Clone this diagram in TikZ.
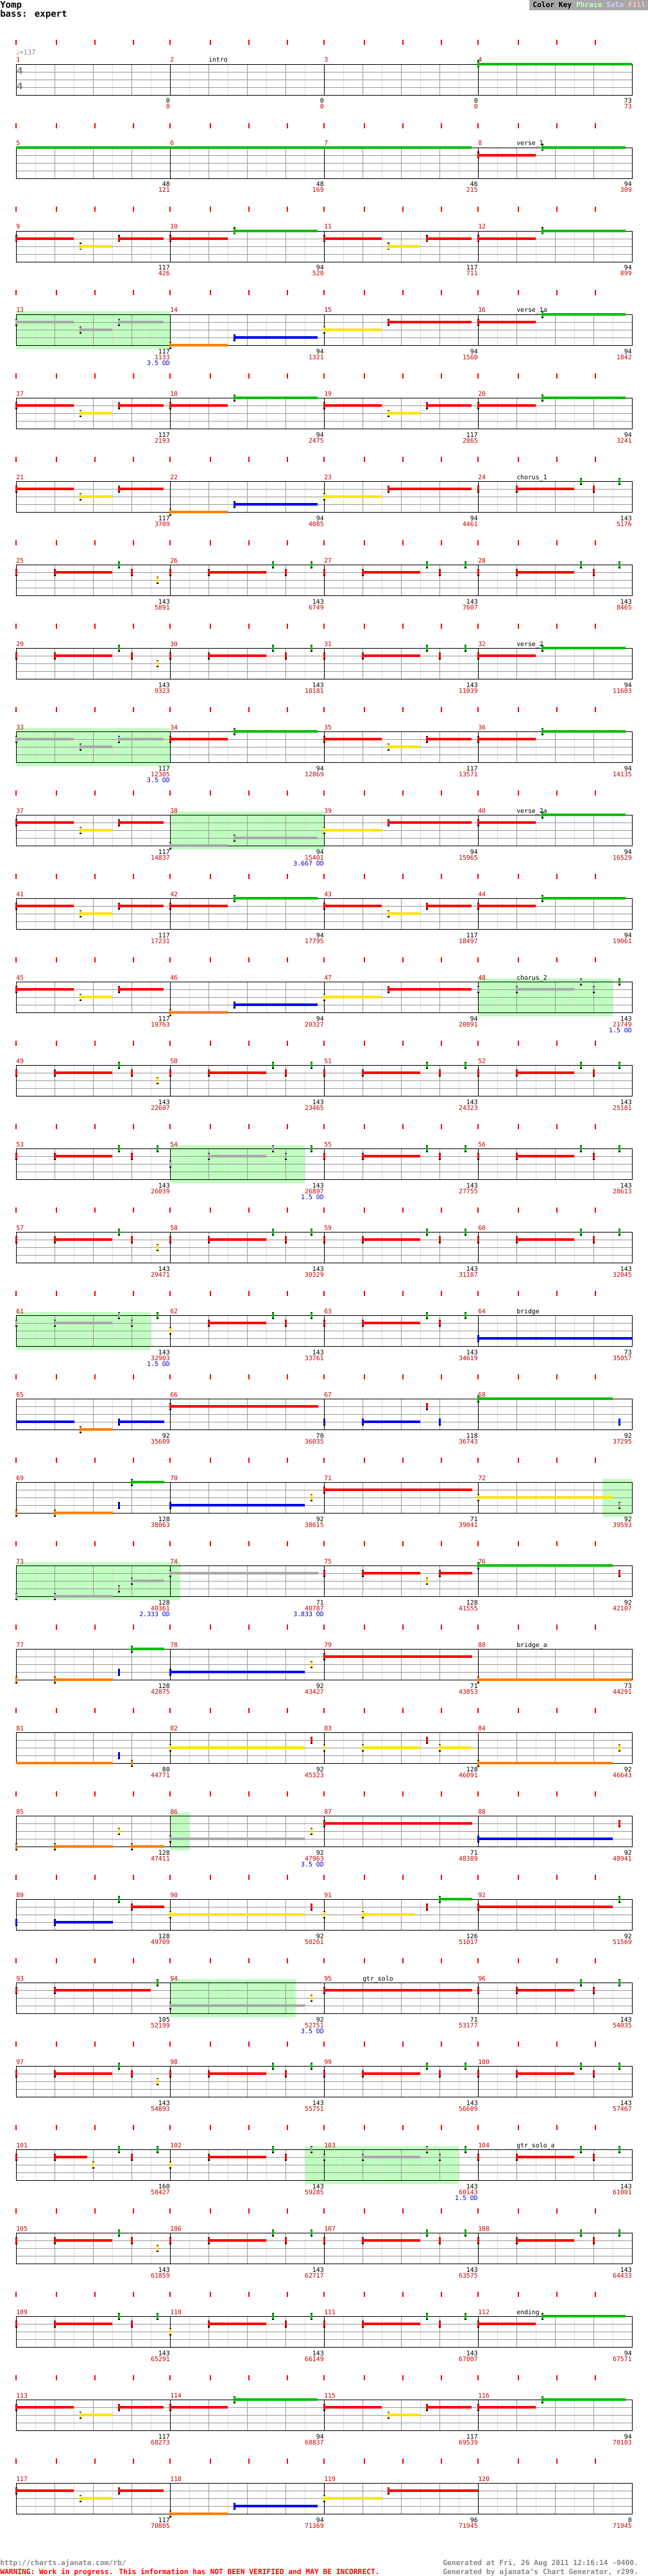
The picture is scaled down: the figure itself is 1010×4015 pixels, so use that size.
\documentclass[tikz,border=0pt]{standalone}
\usepackage{fontspec}
\setmainfont{DejaVu Sans Mono}
\newfontfamily\symfont{DejaVu Sans}

\definecolor{nG}{RGB}{0,190,0}
\definecolor{nR}{RGB}{255,0,0}
\definecolor{nY}{RGB}{255,228,0}
\definecolor{nB}{RGB}{0,0,255}
\definecolor{nO}{RGB}{255,128,0}
\definecolor{nS}{RGB}{168,168,168}
\definecolor{phr}{RGB}{192,255,192}
\definecolor{mred}{RGB}{204,0,0}
\definecolor{odblue}{RGB}{0,0,204}
\definecolor{gridlt}{RGB}{221,221,221}
\definecolor{griddk}{RGB}{153,153,153}
\definecolor{keygray}{RGB}{168,168,168}
\definecolor{keysolo}{RGB}{208,208,255}
\definecolor{keyfill}{RGB}{255,192,192}
\definecolor{footgray}{RGB}{136,136,136}

\tikzset{
  halfline/.style={draw=gridlt, line width=0.7pt},
  beatline/.style={draw=griddk, line width=0.7pt},
  barline/.style={draw=black, line width=0.7pt},
  tickred/.style={fill=red},
  phrase/.style={fill=phr},
  small/.style={font=\fontsize{7}{8}\selectfont, inner sep=0pt},
  mnum/.style={small, text=mred, anchor=base west},
  sect/.style={small, text=black, anchor=base west},
  pts/.style={small, text=black, anchor=base east},
  tot/.style={small, text=mred, anchor=base east},
  odl/.style={small, text=odblue, anchor=base east},
  title/.style={font=\fontsize{10}{12}\selectfont\bfseries, inner sep=0pt, anchor=base west},
  keytxt/.style={font=\fontsize{8}{10}\selectfont\bfseries, inner sep=0pt, anchor=base west},
  foot/.style={font=\fontsize{8}{10}\selectfont\bfseries, inner sep=0pt, anchor=base west},
  tempo/.style={font=\fontsize{7.5}{9}\selectfont, text=footgray, inner sep=0pt, anchor=base west},
  tsig/.style={font=\symfont\fontsize{10}{12}\selectfont\bfseries, text=footgray, inner sep=0pt}
}

% position of measure #1: \mx = left edge, \my = top line of its staff
\newcommand\setm[1]{%
  \pgfmathtruncatemacro\ro{(#1-1)/4}%
  \pgfmathtruncatemacro\co{mod(#1-1,4)}%
  \pgfmathsetmacro\mx{25+240*\co}%
  \pgfmathsetmacro\my{100+130*\ro}}
% gem: offset, lane (0 green .. 4 orange), colour, sustain length
\newcommand\gem[4]{%
  \fill[#3] (\mx+#1,\my+12*#2-2) rectangle ++(#4,4);
  \fill[black] (\mx+#1-1,\my+12*#2-5.5) rectangle ++(3,11);
  \fill[#3] (\mx+#1-1,\my+12*#2-4) rectangle ++(3,8);}
% sustain carried over from the row above
\newcommand\tail[4]{\fill[#3] (\mx+#1,\my+12*#2-2) rectangle ++(#4,4);}
% recurring riffs
\newcommand\riffA[2]{\gem{0}{1}{#1}{90}\gem{100}{2}{#2}{50}\gem{160}{1}{#1}{70}}
\newcommand\riffB[2]{\gem{0}{1}{#1}{90}\gem{100}{0}{#2}{130}}
\newcommand\riffC[2]{\gem{0}{4}{#1}{90}\gem{100}{3}{#2}{130}}
\newcommand\riffD[2]{\gem{0}{2}{#1}{90}\gem{100}{1}{#2}{130}}
\newcommand\chor[6]{\gem{0}{#1}{#2}{0}\gem{60}{1}{#3}{90}\gem{160}{0}{#4}{0}\gem{180}{1}{#3}{0}\gem{220}{#5}{#6}{0}}
\newcommand\chE{\chor{1}{nR}{nR}{nG}{0}{nG}}
\newcommand\chF{\chor{1}{nR}{nR}{nG}{2}{nY}}
\newcommand\chG{\chor{2}{nY}{nR}{nG}{0}{nG}}

\begin{document}
\begin{tikzpicture}[x=0.25mm,y=-0.25mm]
\useasboundingbox (0,0) rectangle (1010,4015);

% header
\node[title] (song) at (0,12.5) {Yomp};
\node[title] (part) at (0,27) {bass: expert};
\fill[keygray] (825,0) rectangle (1010,16);
\node[keytxt] (key) at (830,11.5) {Color Key \textcolor{phr}{Phrase} \textcolor{keysolo}{Solo} \textcolor{keyfill}{Fill}};

% overdrive phrases
\foreach \m/\a/\w in {13/0/240, 33/0/240, 38/0/240, 48/0/210, 54/0/210, 61/0/210,
    72/194/46, 73/0/240, 74/0/16, 86/0/31, 94/0/196, 102/210/30, 103/0/210} {
  \setm{\m}
  \fill[phrase] (\mx+\a,\my-5) rectangle ++(\w,59);
}

% staves
\foreach \ro in {0,...,29} {
  \pgfmathsetmacro\yy{100+130*\ro}
  \foreach \k in {1,3,...,31} \draw[halfline] (25+30*\k,\yy) -- ++(0,48);
  \foreach \k in {2,4,...,30} \draw[beatline] (25+30*\k,\yy) -- ++(0,48);
  \foreach \k in {1,2,3} \draw[beatline] (25,\yy+12*\k) -- ++(960,0);
  \foreach \k in {8,16,24} \draw[barline] (25+30*\k,\yy) -- ++(0,48);
  \draw[barline] (25,\yy) rectangle ++(960,48);
  \foreach \co in {0,...,3}
    \foreach \dx in {0,62.7,122.7,182.7}
      \fill[tickred] (25+240*\co+\dx-1,\yy-38) rectangle ++(2,8);
}
\node[tempo] (bpm) at (25,85.5) {{\symfont ♩}=137};
\node[tsig] (ts1) at (31,110) {4};
\node[tsig] (ts2) at (31,134) {4};

% notes
\setm{4}\gem{0}{0}{nG}{240}
\setm{5}\tail{0}{0}{nG}{240}
\setm{6}\tail{0}{0}{nG}{240}
\setm{7}\tail{0}{0}{nG}{230}
\setm{8}\riffB{nR}{nG}
\setm{9}\riffA{nR}{nY}
\setm{10}\riffB{nR}{nG}
\setm{11}\riffA{nR}{nY}
\setm{12}\riffB{nR}{nG}
\setm{13}\riffA{nS}{nS}
\setm{14}\riffC{nO}{nB}
\setm{15}\riffD{nY}{nR}
\setm{16}\riffB{nR}{nG}
\setm{17}\riffA{nR}{nY}
\setm{18}\riffB{nR}{nG}
\setm{19}\riffA{nR}{nY}
\setm{20}\riffB{nR}{nG}
\setm{21}\riffA{nR}{nY}
\setm{22}\riffC{nO}{nB}
\setm{23}\riffD{nY}{nR}
\setm{24}\chE
\setm{25}\chF
\setm{26}\chE
\setm{27}\chE
\setm{28}\chE
\setm{29}\chF
\setm{30}\chE
\setm{31}\chE
\setm{32}\riffB{nR}{nG}
\setm{33}\riffA{nS}{nS}
\setm{34}\riffB{nR}{nG}
\setm{35}\riffA{nR}{nY}
\setm{36}\riffB{nR}{nG}
\setm{37}\riffA{nR}{nY}
\setm{38}\riffC{nS}{nS}
\setm{39}\riffD{nY}{nR}
\setm{40}\riffB{nR}{nG}
\setm{41}\riffA{nR}{nY}
\setm{42}\riffB{nR}{nG}
\setm{43}\riffA{nR}{nY}
\setm{44}\riffB{nR}{nG}
\setm{45}\riffA{nR}{nY}
\setm{46}\riffC{nO}{nB}
\setm{47}\riffD{nY}{nR}
\setm{48}\chor{1}{nS}{nS}{nS}{0}{nG}
\setm{49}\chF
\setm{50}\chE
\setm{51}\chE
\setm{52}\chE
\setm{53}\chE
\setm{54}\chor{2}{nS}{nS}{nS}{0}{nG}
\setm{55}\chE
\setm{56}\chE
\setm{57}\chF
\setm{58}\chE
\setm{59}\chE
\setm{60}\chE
\setm{61}\chor{1}{nS}{nS}{nS}{0}{nG}
\setm{62}\chG
\setm{63}\chE
\setm{64}\gem{0}{3}{nB}{240}
\setm{65}\tail{0}{3}{nB}{91}\gem{100}{4}{nO}{51}\gem{160}{3}{nB}{71}
\setm{66}\gem{0}{1}{nR}{231}
\setm{67}\gem{0}{3}{nB}{0}\gem{60}{3}{nB}{90}\gem{160}{1}{nR}{0}\gem{180}{3}{nB}{0}
\setm{68}\gem{0}{0}{nG}{210}\gem{220}{3}{nB}{0}
\setm{69}\gem{0}{4}{nO}{0}\gem{60}{4}{nO}{91}\gem{160}{3}{nB}{0}\gem{180}{0}{nG}{51}
\setm{70}\gem{0}{3}{nB}{210}\gem{220}{2}{nY}{0}
\setm{71}\gem{0}{1}{nR}{231}
\setm{72}\gem{0}{2}{nY}{210}\gem{220}{3}{nS}{0}
\setm{73}\gem{0}{4}{nS}{0}\gem{60}{4}{nS}{91}\gem{160}{3}{nS}{0}\gem{180}{2}{nS}{51}
\setm{74}\gem{0}{1}{nS}{231}
\setm{75}\gem{0}{1}{nR}{0}\gem{60}{1}{nR}{90}\gem{160}{2}{nY}{0}\gem{180}{1}{nR}{51}
\setm{76}\gem{0}{0}{nG}{210}\gem{220}{1}{nR}{0}
\setm{77}\gem{0}{4}{nO}{0}\gem{60}{4}{nO}{91}\gem{160}{3}{nB}{0}\gem{180}{0}{nG}{51}
\setm{78}\gem{0}{3}{nB}{210}\gem{220}{2}{nY}{0}
\setm{79}\gem{0}{1}{nR}{231}
\setm{80}\gem{0}{4}{nO}{240}
\setm{81}\tail{0}{4}{nO}{151}\gem{160}{3}{nB}{0}\gem{180}{4}{nO}{0}
\setm{82}\gem{0}{2}{nY}{210}\gem{220}{1}{nR}{0}
\setm{83}\gem{0}{2}{nY}{0}\gem{60}{2}{nY}{90}\gem{160}{1}{nR}{0}\gem{180}{2}{nY}{51}
\setm{84}\gem{0}{4}{nO}{210}\gem{220}{2}{nY}{0}
\setm{85}\gem{0}{4}{nO}{0}\gem{60}{4}{nO}{91}\gem{160}{2}{nY}{0}\gem{180}{4}{nO}{51}
\setm{86}\gem{0}{3}{nS}{210}\gem{220}{2}{nY}{0}
\setm{87}\gem{0}{1}{nR}{231}
\setm{88}\gem{0}{3}{nB}{210}\gem{220}{1}{nR}{0}
\setm{89}\gem{0}{3}{nB}{0}\gem{60}{3}{nB}{91}\gem{160}{0}{nG}{0}\gem{180}{1}{nR}{51}
\setm{90}\gem{0}{2}{nY}{210}\gem{220}{1}{nR}{0}
\setm{91}\gem{0}{2}{nY}{0}\gem{60}{2}{nY}{81}\gem{160}{1}{nR}{0}\gem{180}{0}{nG}{51}
\setm{92}\gem{0}{1}{nR}{210}\gem{220}{0}{nG}{0}
\setm{93}\gem{0}{1}{nR}{0}\gem{60}{1}{nR}{150}\gem{220}{0}{nG}{0}
\setm{94}\gem{0}{3}{nS}{210}\gem{220}{2}{nY}{0}
\setm{95}\gem{0}{1}{nR}{231}
\setm{96}\chE
\setm{97}\chF
\setm{98}\chE
\setm{99}\chE
\setm{100}\chE
\setm{101}\gem{0}{1}{nR}{0}\gem{60}{1}{nR}{51}\gem{120}{2}{nY}{0}\gem{160}{0}{nG}{0}\gem{180}{1}{nR}{0}\gem{220}{0}{nG}{0}
\setm{102}\chor{2}{nY}{nR}{nG}{0}{nS}
\setm{103}\chor{1}{nS}{nS}{nS}{0}{nG}
\setm{104}\chE
\setm{105}\chF
\setm{106}\chE
\setm{107}\chE
\setm{108}\chE
\setm{109}\chE
\setm{110}\chG
\setm{111}\chE
\setm{112}\riffB{nR}{nG}
\setm{113}\riffA{nR}{nY}
\setm{114}\riffB{nR}{nG}
\setm{115}\riffA{nR}{nY}
\setm{116}\riffB{nR}{nG}
\setm{117}\riffA{nR}{nY}
\setm{118}\riffC{nO}{nB}
\setm{119}\gem{0}{2}{nY}{90}\gem{100}{1}{nR}{140}

% measure numbers and scores
\foreach \m/\pnt/\tot in {1/0/0, 2/0/0, 3/0/0, 4/73/73, 5/48/121, 6/48/169, 7/46/215, 8/94/309,
    9/117/426, 10/94/520, 11/117/711, 12/94/899, 13/117/1133, 14/94/1321, 15/94/1560, 16/94/1842,
    17/117/2193, 18/94/2475, 19/117/2865, 20/94/3241, 21/117/3709, 22/94/4085, 23/94/4461, 24/143/5176,
    25/143/5891, 26/143/6749, 27/143/7607, 28/143/8465, 29/143/9323, 30/143/10181, 31/143/11039, 32/94/11603,
    33/117/12305, 34/94/12869, 35/117/13571, 36/94/14135, 37/117/14837, 38/94/15401, 39/94/15965, 40/94/16529,
    41/117/17231, 42/94/17795, 43/117/18497, 44/94/19061, 45/117/19763, 46/94/20327, 47/94/20891, 48/143/21749,
    49/143/22607, 50/143/23465, 51/143/24323, 52/143/25181, 53/143/26039, 54/143/26897, 55/143/27755, 56/143/28613,
    57/143/29471, 58/143/30329, 59/143/31187, 60/143/32045, 61/143/32903, 62/143/33761, 63/143/34619, 64/73/35057,
    65/92/35609, 66/70/36035, 67/118/36743, 68/92/37295, 69/128/38063, 70/92/38615, 71/71/39041, 72/92/39593,
    73/128/40361, 74/71/40787, 75/128/41555, 76/92/42107, 77/128/42875, 78/92/43427, 79/71/43853, 80/73/44291,
    81/80/44771, 82/92/45323, 83/128/46091, 84/92/46643, 85/128/47411, 86/92/47963, 87/71/48389, 88/92/48941,
    89/128/49709, 90/92/50261, 91/126/51017, 92/92/51569, 93/105/52199, 94/92/52751, 95/71/53177, 96/143/54035,
    97/143/54893, 98/143/55751, 99/143/56609, 100/143/57467, 101/160/58427, 102/143/59285, 103/143/60143, 104/143/61001,
    105/143/61859, 106/143/62717, 107/143/63575, 108/143/64433, 109/143/65291, 110/143/66149, 111/143/67007, 112/94/67571,
    113/117/68273, 114/94/68837, 115/117/69539, 116/94/70103, 117/117/70805, 118/94/71369, 119/96/71945, 120/0/71945} {
  \setm{\m}
  \node[mnum] (mn\m) at (\mx,\my-3) {\m};
  \node[pts] (pt\m) at (\mx+240,\my+61) {\pnt};
  \node[tot] (tot\m) at (\mx+240,\my+70) {\tot};
}
\foreach \m/\od in {13/3.5, 33/3.5, 38/3.667, 48/1.5, 54/1.5, 61/1.5, 73/2.333, 74/3.833, 86/3.5, 94/3.5, 103/1.5} {
  \setm{\m}
  \node[odl] (od\m) at (\mx+240,\my+79) {\od{} OD};
}
% sections
\foreach \m/\lab in {2/intro, 8/verse\_1, 16/verse\_1a, 24/chorus\_1, 32/verse\_2, 40/verse\_2a, 48/chorus\_2,
    64/bridge, 80/bridge\_a, 95/gtr\_solo, 104/gtr\_solo\_a, 112/ending} {
  \setm{\m}
  \node[sect] (sec\m) at (\mx+60,\my-3) {\lab};
}

% footer
\node[foot, text=footgray] (url) at (0,3998) {http://charts.ajanata.com/rb/};
\node[foot, text=red] (warn) at (0,4012) {WARNING: Work in progress. This information has NOT BEEN VERIFIED and MAY BE INCORRECT.};
\node[foot, text=footgray] (gen1) at (690,3998) {Generated at Fri, 26 Aug 2011 12:16:14 -0400.};
\node[foot, text=footgray] (gen2) at (690,4012) {Generated by ajanata’s Chart Generator, r299.};
\end{tikzpicture}
\end{document}
